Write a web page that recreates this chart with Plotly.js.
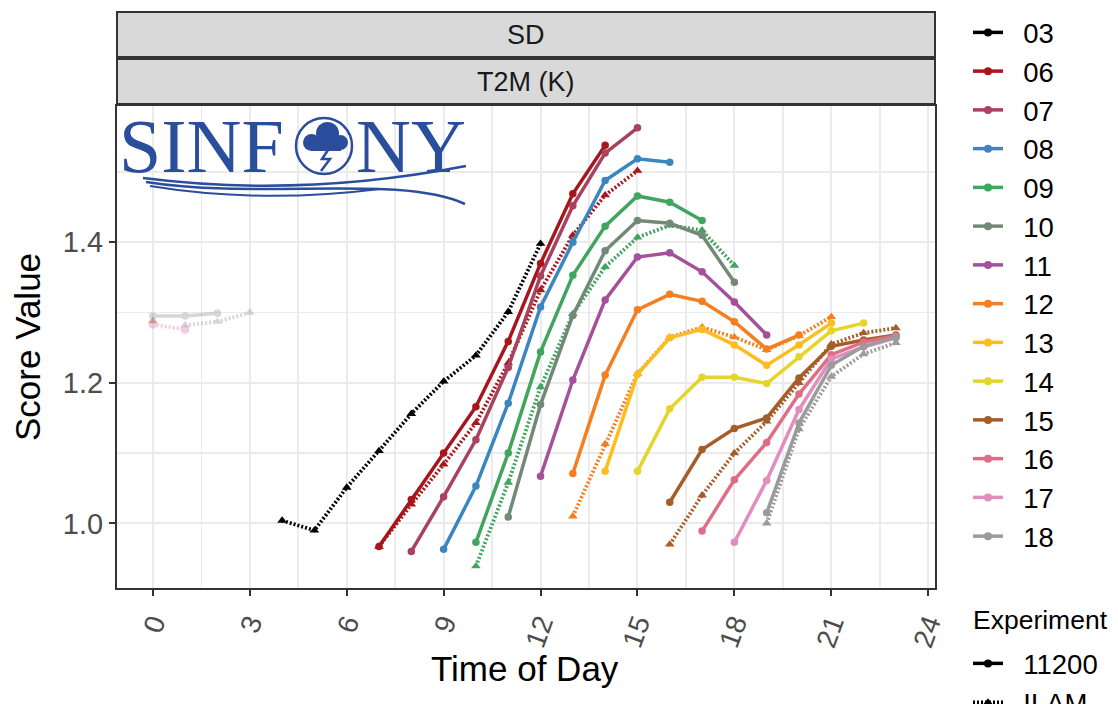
<!DOCTYPE html>
<html><head><meta charset="utf-8">
<script src="https://cdn.plot.ly/plotly-3.0.1.min.js"></script>
<style>html,body{margin:0;padding:0;background:#fff}#chart{width:1118px;height:704px}</style>
</head><body><div id="chart"></div>
<script>
// ---- data ----
const runLabels = ['03','06','07','08','09','10','11','12','13','14','15','16','17','18'];
const runColors = ['#000000','#A8161D','#A8425E','#3A87C0','#40A65E','#748878','#A4509B','#F47E20','#FDBD1F','#E5D52B','#A65D29','#DE6E86','#E38CC0','#9B9B9B'];
const experiments = ['11200','ILAM'];
const xTicks = [0,3,6,9,12,15,18,21,24];
const yTicks = [1.0,1.2,1.4];

// 11200 experiment (solid, circles)
const x06 = [7,8,9,10,11,12,13,14];            const y06 = [0.967,1.034,1.100,1.166,1.259,1.370,1.469,1.538];
const x07 = [8,9,10,11,12,13,14,15];           const y07 = [0.960,1.038,1.119,1.222,1.352,1.452,1.527,1.563];
const x08 = [9,10,11,12,13,14,15,16];          const y08 = [0.963,1.053,1.171,1.308,1.400,1.488,1.519,1.514];
const x09 = [10,11,12,13,14,15,16,17];         const y09 = [0.973,1.100,1.244,1.353,1.423,1.466,1.457,1.431];
const x10 = [11,12,13,14,15,16,17,18];         const y10 = [1.009,1.169,1.296,1.388,1.431,1.427,1.410,1.343];
const x11 = [12,13,14,15,16,17,18,19];         const y11 = [1.067,1.204,1.318,1.379,1.385,1.358,1.315,1.268];
const x12 = [13,14,15,16,17,18,19,20];         const y12 = [1.071,1.211,1.304,1.326,1.316,1.287,1.248,1.268];
const x13 = [14,15,16,17,18,19,20,21];         const y13 = [1.074,1.212,1.264,1.276,1.254,1.225,1.254,1.285];
const x14 = [15,16,17,18,19,20,21,22];         const y14 = [1.074,1.163,1.208,1.208,1.199,1.237,1.274,1.285];
const x15 = [16,17,18,19,20,21,22,23];         const y15 = [1.030,1.105,1.135,1.150,1.207,1.252,1.261,1.268];
const x16 = [17,18,19,20,21,22,23];            const y16 = [0.989,1.062,1.115,1.184,1.240,1.258,1.267];
const x17 = [18,19,20,21,22,23];               const y17 = [0.973,1.061,1.162,1.234,1.251,1.264];
const x18 = [19,20,21,22,23];                  const y18 = [1.015,1.143,1.225,1.252,1.265];
// ILAM experiment (dotted, triangles)
const x03I = [4,5,6,7,8,9,10,11,12];           const y03I = [1.004,0.990,1.051,1.103,1.156,1.202,1.239,1.301,1.398];
const x06I = [7,8,9,10,11,12,13,14,15];        const y06I = [0.967,1.027,1.084,1.143,1.228,1.332,1.410,1.467,1.502];
const x09I = [10,11,12,13,14,15,16,17,18];     const y09I = [0.939,1.058,1.194,1.298,1.365,1.407,1.424,1.417,1.367];
const x12I = [13,14,15,16,17,18,19,20,21];     const y12I = [1.010,1.113,1.213,1.265,1.279,1.265,1.247,1.267,1.294];
const x15I = [16,17,18,19,20,21,22,23];        const y15I = [0.970,1.040,1.100,1.145,1.200,1.255,1.271,1.278];
const x18I = [19,20,21,22,23];                 const y18I = [1.000,1.134,1.209,1.241,1.257];
// faded values after midnight
const x18n = [0,1,2];   const y18n = [1.295,1.295,1.299];
const x18In = [1,2,3];  const y18In = [1.282,1.287,1.300];
const x17n = [0,1];     const y17n = [1.283,1.276];
const x15In = [0];      const y15In = [1.288];

// ---- geometry helpers (panel: 117..935 x 106..588 px) ----
const L = 117, R = 935, T = 106, B = 588, W = 1118, H = 704;
const px = v => (v - L) / (R - L);
const py = v => (B - v) / (B - T);

const col = r => runColors[runLabels.indexOf(r)];
const traces = [];
function add(x, y, run, exp, opacity) {
  const ilam = exp === 'ILAM';
  traces.push({
    x: x, y: y, type: 'scatter', mode: 'lines+markers', showlegend: false, hoverinfo: 'skip',
    opacity: opacity || 1,
    line: {color: col(run), width: ilam ? 3.8 : 3.5, dash: ilam ? '2px,2px' : 'solid'},
    marker: {color: col(run), size: ilam ? 8.5 : 7.5, symbol: ilam ? 'triangle-up' : 'circle'}
  });
}
// faded first (below)
add(x18n, y18n, '18', '11200', 0.4);
add(x18In, y18In, '18', 'ILAM', 0.4);
add(x17n, y17n, '17', 'ILAM', 0.45);
traces[traces.length-1].marker.symbol = 'circle';
add(x15In, y15In, '15', 'ILAM', 0.45);

add(x03I, y03I, '03', 'ILAM');
add(x06, y06, '06', '11200'); add(x06I, y06I, '06', 'ILAM');
add(x07, y07, '07', '11200');
add(x08, y08, '08', '11200');
add(x09, y09, '09', '11200'); add(x09I, y09I, '09', 'ILAM');
add(x10, y10, '10', '11200');
add(x11, y11, '11', '11200');
add(x12, y12, '12', '11200'); add(x12I, y12I, '12', 'ILAM');
add(x13, y13, '13', '11200');
add(x14, y14, '14', '11200');
add(x15, y15, '15', '11200'); add(x15I, y15I, '15', 'ILAM');
add(x16, y16, '16', '11200');
add(x17, y17, '17', '11200');
add(x18, y18, '18', '11200'); add(x18I, y18I, '18', 'ILAM');

// legend entries
const pad = '\u00A0\u00A0';
runLabels.forEach((r, i) => traces.push({
  x: [null], y: [null], type: 'scatter', mode: 'lines+markers', name: pad + r, legend: 'legend',
  line: {color: runColors[i], width: 3.5}, marker: {color: runColors[i], size: 8}
}));
experiments.forEach(e => traces.push({
  x: [null], y: [null], type: 'scatter', mode: 'lines+markers', name: pad + e, legend: 'legend2',
  line: {color: '#000', width: 3.5, dash: e === 'ILAM' ? '2px,2px' : 'solid'},
  marker: {color: '#000', size: 8, symbol: e === 'ILAM' ? 'triangle-up' : 'circle'}
}));

const blue = '#2A4E9C';
const shapes = [
  // strips
  {type:'rect', xref:'paper', yref:'paper', x0:0, x1:1, y0:py(57), y1:py(12), fillcolor:'#D9D9D9', line:{color:'#333333', width:2}},
  {type:'rect', xref:'paper', yref:'paper', x0:0, x1:1, y0:py(104), y1:py(59), fillcolor:'#D9D9D9', line:{color:'#333333', width:2}},
  // logo background
  {type:'rect', xref:'paper', yref:'paper', x0:px(119), x1:px(466), y0:py(207), y1:py(113), fillcolor:'#FFFFFF', line:{width:0}, layer:'below'},
  // O ring
  {type:'circle', xref:'paper', yref:'paper', x0:px(296), x1:px(352), y0:py(174), y1:py(118), line:{color:blue, width:2.5}},
  // cloud
  {type:'circle', xref:'paper', yref:'paper', x0:px(316), x1:px(339), y0:py(145), y1:py(122), fillcolor:blue, line:{width:0}},
  {type:'circle', xref:'paper', yref:'paper', x0:px(303), x1:px(320), y0:py(151), y1:py(134), fillcolor:blue, line:{width:0}},
  {type:'circle', xref:'paper', yref:'paper', x0:px(333), x1:px(348), y0:py(150), y1:py(135), fillcolor:blue, line:{width:0}},
  {type:'rect', xref:'paper', yref:'paper', x0:px(311), x1:px(341), y0:py(151), y1:py(140), fillcolor:blue, line:{width:0}},
  // lightning
  {type:'path', xref:'paper', yref:'paper', path:`M${px(330)},${py(147)} L${px(322)},${py(159)} L${px(330)},${py(159)} L${px(321)},${py(171)}`, line:{color:blue, width:2.5}},
  // waves
  {type:'path', xref:'paper', yref:'paper', path:`M${px(143)},${py(178)} Q${px(300)},${py(198)} ${px(466)},${py(166)}`, line:{color:blue, width:2.5}},
  {type:'path', xref:'paper', yref:'paper', path:`M${px(146)},${py(182)} C${px(260)},${py(200)} ${px(400)},${py(174)} ${px(465)},${py(204)}`, line:{color:blue, width:2.5}},
  {type:'path', xref:'paper', yref:'paper', path:`M${px(150)},${py(186)} Q${px(260)},${py(204)} ${px(380)},${py(189)}`, line:{color:blue, width:2}}
];

const ann = (text, x, y, font, extra) => Object.assign({text, xref:'paper', yref:'paper', x:px(x), y:py(y),
  xanchor:'center', yanchor:'middle', showarrow:false, font}, extra || {});
const annotations = [
  ann('SD', 526, 35, {size:27, color:'#1A1A1A'}),
  ann('T2M (K)', 526, 82, {size:27, color:'#1A1A1A'}),
  ann('Score Value', 27, 347, {size:35, color:'#000'}, {textangle:-90}),
  ann('Time of Day', 525, 668, {size:35, color:'#000'}),
  ann('Experiment', 971, 620, {size:26.5, color:'#000'}, {xanchor:'left'}),
  ann('SINF', 286, 146, {family:'Liberation Serif', size:76, color:blue}, {xanchor:'right'}),
  ann('NY', 354, 146, {family:'Liberation Serif', size:76, color:blue}, {xanchor:'left'})
];

const layout = {
  width: W, height: H,
  margin: {l: L, r: W - R, t: T, b: H - B, pad: 0, autoexpand: false},
  paper_bgcolor: '#fff', plot_bgcolor: '#fff',
  font: {family: 'Liberation Sans, Arial, sans-serif', color: '#000'},
  xaxis: {
    range: [-1.11, 24.21], tickvals: xTicks, ticktext: xTicks.map(String), tickangle: -70,
    ticks: 'outside', ticklen: 6, tickwidth: 2, tickcolor: '#333333',
    tickfont: {size: 28, color: '#4D4D4D'},
    showgrid: true, gridcolor: '#EBEBEB', gridwidth: 2, zeroline: false,
    minor: {tickvals: [1.5,4.5,7.5,10.5,13.5,16.5,19.5,22.5], showgrid: true, gridcolor: '#EBEBEB', gridwidth: 1.5, ticks: ''},
    showline: true, mirror: true, linecolor: '#333333', linewidth: 2
  },
  yaxis: {
    range: [0.908, 1.594], tickvals: yTicks, ticktext: yTicks.map(v => v.toFixed(1)),
    ticks: 'outside', ticklen: 6, tickwidth: 2, tickcolor: '#333333',
    tickfont: {size: 29, color: '#4D4D4D'},
    showgrid: true, gridcolor: '#EBEBEB', gridwidth: 2, zeroline: false,
    minor: {tickvals: [1.1,1.3,1.5], showgrid: true, gridcolor: '#EBEBEB', gridwidth: 1.5, ticks: ''},
    showline: true, mirror: true, linecolor: '#333333', linewidth: 2
  },
  legend: {x: px(968), xanchor: 'left', y: py(8), yanchor: 'top', font: {size: 27.5, color: '#000'},
           bgcolor: 'rgba(0,0,0,0)', itemwidth: 30, tracegroupgap: 0, maxheight: 600},
  legend2: {x: px(968), xanchor: 'left', y: py(639), yanchor: 'top', font: {size: 27.5, color: '#000'},
           bgcolor: 'rgba(0,0,0,0)', itemwidth: 30, maxheight: 300},
  shapes: shapes, annotations: annotations, showlegend: true
};

Plotly.newPlot('chart', traces, layout, {displayModeBar: false, staticPlot: true});
</script></body></html>
